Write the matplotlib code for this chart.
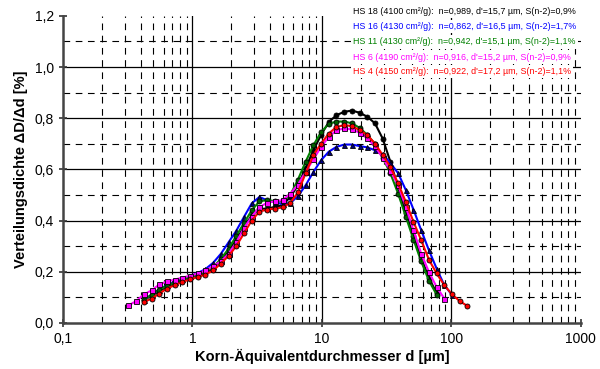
import matplotlib.pyplot as plt
from matplotlib.ticker import FixedLocator, NullFormatter

plt.rcParams["font.family"] = ["Liberation Sans", "DejaVu Sans"]

# particle size grid (µm)
d = [0.32, 0.367, 0.421, 0.483, 0.554, 0.635, 0.728, 0.835, 0.958, 1.099,
     1.26, 1.446, 1.658, 1.902, 2.18, 2.5, 2.87, 3.29, 3.78, 4.33,
     4.97, 5.7, 6.53, 7.49, 8.6, 9.86, 11.3, 12.96, 14.9, 17.1,
     19.6, 22.4, 25.7, 29.5, 33.8, 38.8, 44.5, 51.0, 58.5, 67.1,
     77.0, 88.3, 101.0, 116.0, 133.0]

d_hs18 = d[2:41]
hs18 = [0.09, 0.105, 0.125, 0.14, 0.155, 0.165, 0.175, 0.185, 0.195, 0.212,
        0.245, 0.28, 0.325, 0.375, 0.42, 0.445, 0.447, 0.453, 0.46, 0.492,
        0.538, 0.605, 0.675, 0.735, 0.785, 0.812, 0.825, 0.83, 0.821, 0.806,
        0.78, 0.72, 0.63, 0.53, 0.43, 0.34, 0.255, 0.175, 0.117]

d_hs16 = d[2:43]
hs16 = [0.09, 0.11, 0.13, 0.148, 0.16, 0.172, 0.183, 0.195, 0.21, 0.235,
        0.27, 0.315, 0.36, 0.414, 0.467, 0.492, 0.479, 0.472, 0.464, 0.469,
        0.495, 0.538, 0.59, 0.636, 0.669, 0.688, 0.697, 0.697, 0.691, 0.686,
        0.675, 0.66, 0.625, 0.585, 0.519, 0.443, 0.362, 0.284, 0.212, 0.147,
        0.11]

d_hs11 = d[2:41]
hs11 = [0.09, 0.11, 0.13, 0.145, 0.158, 0.168, 0.178, 0.188, 0.2, 0.218,
        0.25, 0.29, 0.34, 0.39, 0.44, 0.475, 0.48, 0.476, 0.475, 0.5,
        0.56, 0.63, 0.695, 0.745, 0.778, 0.787, 0.787, 0.78, 0.762, 0.735,
        0.70, 0.645, 0.585, 0.505, 0.415, 0.325, 0.24, 0.165, 0.11]

d_hs6 = d[0:42]
hs6 = [0.068, 0.085, 0.111, 0.127, 0.15, 0.162, 0.169, 0.177, 0.184, 0.193,
       0.205, 0.222, 0.24, 0.27, 0.315, 0.37, 0.415, 0.452, 0.47, 0.475,
       0.48, 0.505, 0.54, 0.59, 0.64, 0.688, 0.727, 0.753, 0.76, 0.756,
       0.743, 0.721, 0.69, 0.645, 0.595, 0.538, 0.453, 0.362, 0.271, 0.199,
       0.14, 0.095]

d_hs4 = d[2:45]
hs4 = [0.081, 0.095, 0.114, 0.134, 0.147, 0.16, 0.17, 0.179, 0.189, 0.205,
       0.232, 0.262, 0.3, 0.35, 0.4, 0.435, 0.443, 0.447, 0.451, 0.469,
       0.51, 0.585, 0.656, 0.701, 0.74, 0.766, 0.773, 0.769, 0.753, 0.734,
       0.701, 0.656, 0.61, 0.545, 0.473, 0.395, 0.323, 0.247, 0.193, 0.147,
       0.112, 0.085, 0.066]

labels = [
    "HS 18 (4100 cm²/g):  n=0,989, d'=15,7 µm, S(n-2)=0,9%",
    "HS 16 (4130 cm²/g):  n=0,862, d'=16,5 µm, S(n-2)=1,7%",
    "HS 11 (4130 cm²/g):  n=0,942, d'=15,1 µm, S(n-2)=1,1%",
    "HS 6 (4190 cm²/g):  n=0,916, d'=15,2 µm, S(n-2)=0,9%",
    "HS 4 (4150 cm²/g):  n=0,922, d'=17,2 µm, S(n-2)=1,1%",
]

fig = plt.figure(figsize=(6, 3.69), dpi=100)
ax = fig.add_axes([0.105, 0.125, 0.863, 0.832])

series = [
    (d_hs18, hs18, "black", "o", "black", "black"),
    (d_hs16, hs16, "blue", "^", "#000080", "black"),
    (d_hs11, hs11, "green", "o", "#006000", "black"),
    (d_hs6, hs6, "magenta", "s", "magenta", "black"),
    (d_hs4, hs4, "red", "o", "red", "black"),
]
for x, y, c, m, fc, ec in series:
    ax.plot(x, y, color=c, lw=1.5, marker=m, ms=3.6, mfc=fc, mec=ec, mew=0.6,
            zorder=3)

ax.set_xscale("log")
ax.set_xlim(0.1, 1000)
ax.set_ylim(0, 1.2)

ax.set_yticks([0, 0.2, 0.4, 0.6, 0.8, 1.0, 1.2])
ax.set_yticklabels(["0,0", "0,2", "0,4", "0,6", "0,8", "1,0", "1,2"])
ax.yaxis.set_minor_locator(FixedLocator([0.1, 0.3, 0.5, 0.7, 0.9, 1.1]))
ax.set_xticks([0.1, 1, 10, 100, 1000])
ax.set_xticklabels(["0,1", "1", "10", "100", "1000"])
minors = [k * 10.0 ** e for e in range(-1, 3) for k in range(2, 10)]
ax.xaxis.set_minor_locator(FixedLocator(minors))
ax.xaxis.set_minor_formatter(NullFormatter())

for yv in [0.2, 0.4, 0.6, 0.8, 1.0]:
    ax.axhline(yv, color="black", lw=0.9, zorder=0.5)
for xv in [1, 10, 100]:
    ax.axvline(xv, color="black", lw=0.9, zorder=0.5)
ax.grid(True, which="minor", color="black", lw=0.8, ls=(0, (6, 5)))
ax.set_axisbelow(True)

ax.tick_params(which="major", direction="inout", length=6, width=1.2,
               labelsize=10, colors="#333333", labelcolor="black")
ax.tick_params(which="minor", length=0)
for s in ["top", "right"]:
    ax.spines[s].set_visible(False)
for s in ["left", "bottom"]:
    ax.spines[s].set_linewidth(1.8)
    ax.spines[s].set_color("#444444")

ax.set_xlabel("Korn-Äquivalentdurchmesser d [µm]", fontsize=10.5,
              fontweight="bold", labelpad=2)
ax.set_ylabel("Verteilungsdichte ΔD/Δd [%]", fontsize=10.5,
              fontweight="bold", labelpad=5)

colors = ["black", "blue", "green", "magenta", "red"]
ypos = [1.013, 0.964, 0.915, 0.866, 0.818]
for lab, c, yp in zip(labels, colors, ypos):
    ax.text(0.56, yp, lab, color=c, fontsize=6.4, transform=ax.transAxes,
            va="center", ha="left", zorder=6,
            bbox=dict(facecolor="white", edgecolor="none", pad=1.5))

plt.savefig("out.png", dpi=100)
